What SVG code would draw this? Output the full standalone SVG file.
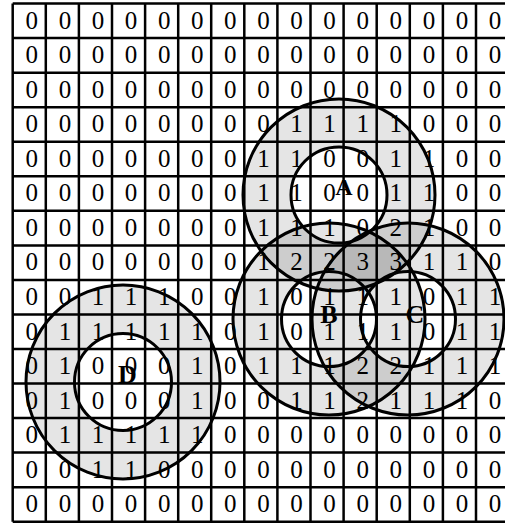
<svg xmlns="http://www.w3.org/2000/svg" width="505" height="523" viewBox="0 0 505 523">
<style>
.d{font-family:"Liberation Serif","Times New Roman",serif;font-size:25px;text-anchor:middle;fill:#000}
.g{stroke:#000;stroke-width:2.5;fill:none}
.ring{fill:#000;fill-opacity:0.1;fill-rule:evenodd;stroke:none}
.c{fill:none;stroke:#000;stroke-width:3}
.lbl{font-family:"Liberation Serif","Times New Roman",serif;font-weight:bold;font-size:26px;text-anchor:middle;fill:#000}
</style>
<rect x="0" y="0" width="505" height="523" fill="#fff"/>
<g id="grid">
<path class="g" d="M12.7,3.6V521.7M45.8,3.6V521.7M78.9,3.6V521.7M112,3.6V521.7M145.1,3.6V521.7M178.2,3.6V521.7M211.2,3.6V521.7M244.3,3.6V521.7M277.4,3.6V521.7M310.5,3.6V521.7M343.6,3.6V521.7M376.7,3.6V521.7M409.8,3.6V521.7M442.9,3.6V521.7M476,3.6V521.7M509.1,3.6V521.7
M12.7,3.6H510M12.7,38.1H510M12.7,72.7H510M12.7,107.2H510M12.7,141.8H510M12.7,176.3H510M12.7,210.8H510M12.7,245.4H510M12.7,279.9H510M12.7,314.5H510M12.7,349H510M12.7,383.5H510M12.7,418.1H510M12.7,452.6H510M12.7,487.2H510M12.7,521.7H510"/>
</g>
<g id="digits" class="d">
<text y="28.6"><tspan x="31.8">0</tspan><tspan x="64.9">0</tspan><tspan x="98">0</tspan><tspan x="131.1">0</tspan><tspan x="164.2">0</tspan><tspan x="197.2">0</tspan><tspan x="230.3">0</tspan><tspan x="263.4">0</tspan><tspan x="296.5">0</tspan><tspan x="329.6">0</tspan><tspan x="362.7">0</tspan><tspan x="395.8">0</tspan><tspan x="428.9">0</tspan><tspan x="462">0</tspan><tspan x="495.1">0</tspan></text>
<text y="63.1"><tspan x="31.8">0</tspan><tspan x="64.9">0</tspan><tspan x="98">0</tspan><tspan x="131.1">0</tspan><tspan x="164.2">0</tspan><tspan x="197.2">0</tspan><tspan x="230.3">0</tspan><tspan x="263.4">0</tspan><tspan x="296.5">0</tspan><tspan x="329.6">0</tspan><tspan x="362.7">0</tspan><tspan x="395.8">0</tspan><tspan x="428.9">0</tspan><tspan x="462">0</tspan><tspan x="495.1">0</tspan></text>
<text y="97.7"><tspan x="31.8">0</tspan><tspan x="64.9">0</tspan><tspan x="98">0</tspan><tspan x="131.1">0</tspan><tspan x="164.2">0</tspan><tspan x="197.2">0</tspan><tspan x="230.3">0</tspan><tspan x="263.4">0</tspan><tspan x="296.5">0</tspan><tspan x="329.6">0</tspan><tspan x="362.7">0</tspan><tspan x="395.8">0</tspan><tspan x="428.9">0</tspan><tspan x="462">0</tspan><tspan x="495.1">0</tspan></text>
<text y="132.2"><tspan x="31.8">0</tspan><tspan x="64.9">0</tspan><tspan x="98">0</tspan><tspan x="131.1">0</tspan><tspan x="164.2">0</tspan><tspan x="197.2">0</tspan><tspan x="230.3">0</tspan><tspan x="263.4">0</tspan><tspan x="296.5">1</tspan><tspan x="329.6">1</tspan><tspan x="362.7">1</tspan><tspan x="395.8">1</tspan><tspan x="428.9">0</tspan><tspan x="462">0</tspan><tspan x="495.1">0</tspan></text>
<text y="166.8"><tspan x="31.8">0</tspan><tspan x="64.9">0</tspan><tspan x="98">0</tspan><tspan x="131.1">0</tspan><tspan x="164.2">0</tspan><tspan x="197.2">0</tspan><tspan x="230.3">0</tspan><tspan x="263.4">1</tspan><tspan x="296.5">1</tspan><tspan x="329.6">0</tspan><tspan x="362.7">0</tspan><tspan x="395.8">1</tspan><tspan x="428.9">1</tspan><tspan x="462">0</tspan><tspan x="495.1">0</tspan></text>
<text y="201.3"><tspan x="31.8">0</tspan><tspan x="64.9">0</tspan><tspan x="98">0</tspan><tspan x="131.1">0</tspan><tspan x="164.2">0</tspan><tspan x="197.2">0</tspan><tspan x="230.3">0</tspan><tspan x="263.4">1</tspan><tspan x="296.5">1</tspan><tspan x="329.6">0</tspan><tspan x="362.7">0</tspan><tspan x="395.8">1</tspan><tspan x="428.9">1</tspan><tspan x="462">0</tspan><tspan x="495.1">0</tspan></text>
<text y="235.8"><tspan x="31.8">0</tspan><tspan x="64.9">0</tspan><tspan x="98">0</tspan><tspan x="131.1">0</tspan><tspan x="164.2">0</tspan><tspan x="197.2">0</tspan><tspan x="230.3">0</tspan><tspan x="263.4">1</tspan><tspan x="296.5">1</tspan><tspan x="329.6">1</tspan><tspan x="362.7">0</tspan><tspan x="395.8">2</tspan><tspan x="428.9">1</tspan><tspan x="462">0</tspan><tspan x="495.1">0</tspan></text>
<text y="270.4"><tspan x="31.8">0</tspan><tspan x="64.9">0</tspan><tspan x="98">0</tspan><tspan x="131.1">0</tspan><tspan x="164.2">0</tspan><tspan x="197.2">0</tspan><tspan x="230.3">0</tspan><tspan x="263.4">1</tspan><tspan x="296.5">2</tspan><tspan x="329.6">2</tspan><tspan x="362.7">3</tspan><tspan x="395.8">3</tspan><tspan x="428.9">1</tspan><tspan x="462">1</tspan><tspan x="495.1">0</tspan></text>
<text y="304.9"><tspan x="31.8">0</tspan><tspan x="64.9">0</tspan><tspan x="98">1</tspan><tspan x="131.1">1</tspan><tspan x="164.2">1</tspan><tspan x="197.2">0</tspan><tspan x="230.3">0</tspan><tspan x="263.4">1</tspan><tspan x="296.5">0</tspan><tspan x="329.6">1</tspan><tspan x="362.7">1</tspan><tspan x="395.8">1</tspan><tspan x="428.9">0</tspan><tspan x="462">1</tspan><tspan x="495.1">1</tspan></text>
<text y="339.5"><tspan x="31.8">0</tspan><tspan x="64.9">1</tspan><tspan x="98">1</tspan><tspan x="131.1">1</tspan><tspan x="164.2">1</tspan><tspan x="197.2">1</tspan><tspan x="230.3">0</tspan><tspan x="263.4">1</tspan><tspan x="296.5">0</tspan><tspan x="329.6">1</tspan><tspan x="362.7">1</tspan><tspan x="395.8">1</tspan><tspan x="428.9">0</tspan><tspan x="462">1</tspan><tspan x="495.1">1</tspan></text>
<text y="374"><tspan x="31.8">0</tspan><tspan x="64.9">1</tspan><tspan x="98">0</tspan><tspan x="131.1">0</tspan><tspan x="164.2">0</tspan><tspan x="197.2">1</tspan><tspan x="230.3">0</tspan><tspan x="263.4">1</tspan><tspan x="296.5">1</tspan><tspan x="329.6">1</tspan><tspan x="362.7">2</tspan><tspan x="395.8">2</tspan><tspan x="428.9">1</tspan><tspan x="462">1</tspan><tspan x="495.1">1</tspan></text>
<text y="408.5"><tspan x="31.8">0</tspan><tspan x="64.9">1</tspan><tspan x="98">0</tspan><tspan x="131.1">0</tspan><tspan x="164.2">0</tspan><tspan x="197.2">1</tspan><tspan x="230.3">0</tspan><tspan x="263.4">0</tspan><tspan x="296.5">1</tspan><tspan x="329.6">1</tspan><tspan x="362.7">2</tspan><tspan x="395.8">1</tspan><tspan x="428.9">1</tspan><tspan x="462">1</tspan><tspan x="495.1">0</tspan></text>
<text y="443.1"><tspan x="31.8">0</tspan><tspan x="64.9">1</tspan><tspan x="98">1</tspan><tspan x="131.1">1</tspan><tspan x="164.2">1</tspan><tspan x="197.2">1</tspan><tspan x="230.3">0</tspan><tspan x="263.4">0</tspan><tspan x="296.5">0</tspan><tspan x="329.6">0</tspan><tspan x="362.7">0</tspan><tspan x="395.8">0</tspan><tspan x="428.9">0</tspan><tspan x="462">0</tspan><tspan x="495.1">0</tspan></text>
<text y="477.6"><tspan x="31.8">0</tspan><tspan x="64.9">0</tspan><tspan x="98">1</tspan><tspan x="131.1">1</tspan><tspan x="164.2">0</tspan><tspan x="197.2">0</tspan><tspan x="230.3">0</tspan><tspan x="263.4">0</tspan><tspan x="296.5">0</tspan><tspan x="329.6">0</tspan><tspan x="362.7">0</tspan><tspan x="395.8">0</tspan><tspan x="428.9">0</tspan><tspan x="462">0</tspan><tspan x="495.1">0</tspan></text>
<text y="512.2"><tspan x="31.8">0</tspan><tspan x="64.9">0</tspan><tspan x="98">0</tspan><tspan x="131.1">0</tspan><tspan x="164.2">0</tspan><tspan x="197.2">0</tspan><tspan x="230.3">0</tspan><tspan x="263.4">0</tspan><tspan x="296.5">0</tspan><tspan x="329.6">0</tspan><tspan x="362.7">0</tspan><tspan x="395.8">0</tspan><tspan x="428.9">0</tspan><tspan x="462">0</tspan><tspan x="495.1">0</tspan></text>
</g>
<g id="nodeA">
<path class="ring" d="M243,195a96,96 0 1,0 192,0a96,96 0 1,0 -192,0ZM291,195a48,48 0 1,0 96,0a48,48 0 1,0 -96,0Z"/>
<circle class="c" cx="339" cy="195" r="96"/>
<circle class="c" cx="339" cy="195" r="48"/>
<text class="lbl" x="344" y="195" style="font-size:24px">A</text>
</g>
<g id="nodeB">
<path class="ring" d="M233,319a96,96 0 1,0 192,0a96,96 0 1,0 -192,0ZM281.5,319a47.5,47.5 0 1,0 95,0a47.5,47.5 0 1,0 -95,0Z"/>
<circle class="c" cx="329" cy="319" r="96"/>
<circle class="c" cx="329" cy="319" r="47.5"/>
<text class="lbl" x="329" y="323">B</text>
</g>
<g id="nodeC">
<path class="ring" d="M312,319a96,96 0 1,0 192,0a96,96 0 1,0 -192,0ZM360.5,319a47.5,47.5 0 1,0 95,0a47.5,47.5 0 1,0 -95,0Z"/>
<circle class="c" cx="408" cy="319" r="96"/>
<circle class="c" cx="408" cy="319" r="47.5"/>
<text class="lbl" x="415" y="323">C</text>
</g>
<g id="nodeD">
<path class="ring" d="M26,382a97,97 0 1,0 194,0a97,97 0 1,0 -194,0ZM74.5,382a48.5,48.5 0 1,0 97,0a48.5,48.5 0 1,0 -97,0Z"/>
<circle class="c" cx="123" cy="382" r="97"/>
<circle class="c" cx="123" cy="382" r="48.5"/>
<text class="lbl" x="127.5" y="383">D</text>
</g>
</svg>
